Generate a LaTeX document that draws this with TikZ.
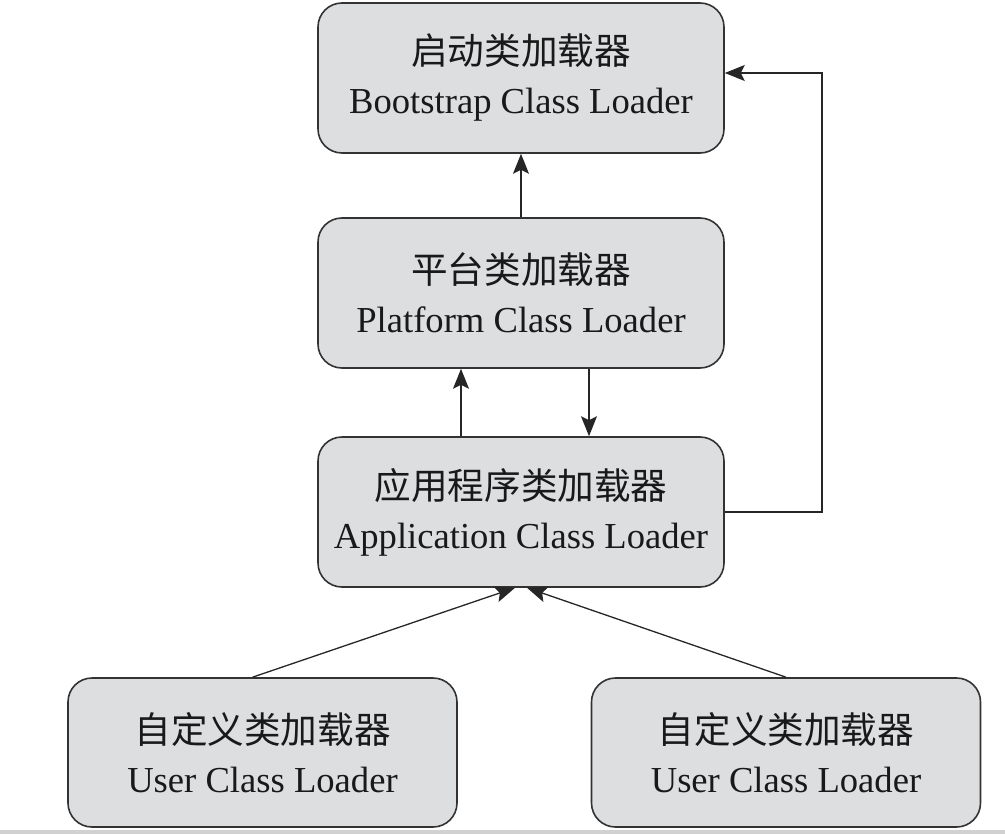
\documentclass[tikz,border=0pt]{standalone}
\usepackage{fontspec}
\setmainfont{Liberation Serif}
\newfontfamily\cjk{Noto Sans CJK SC}
\usetikzlibrary{arrows.meta, positioning}
\definecolor{boxfill}{HTML}{DCDEE0}
\definecolor{boxline}{HTML}{333333}
\tikzset{loader/.style={rectangle, rounded corners=12pt, draw=boxline, fill=boxfill,
    line width=0.8pt, minimum width=203pt, minimum height=75pt, align=center,
    text=black!90, font=\fontsize{18.3}{24.5}\selectfont},
    user loader/.style={loader, minimum width=194.5pt, minimum height=74.5pt},
    link/.style={draw=black!85, line width=0.65pt,
    -{Stealth[length=10pt, width=8pt, inset=2pt]}}}

\begin{document}
\begin{tikzpicture}[x=0.5pt, y=-0.5pt]
  \useasboundingbox (0,0) rectangle (1005,834);
  \fill[black!18] (0,830) rectangle (1005,834);

  % Nodes
  \node[loader] (boot) at (521,78)  {{\cjk 启动类加载器}\\Bootstrap Class Loader};
  \node[loader] (plat) at (521,293) {{\cjk 平台类加载器}\\Platform Class Loader};
  \node[loader] (app)  at (521,512) {{\cjk 应用程序类加载器}\\Application Class Loader};
  \node[user loader] (userA) at (262.5,752.5) {{\cjk 自定义类加载器}\\User Class Loader};
  \node[user loader] (userB) at (786,752.5)   {{\cjk 自定义类加载器}\\User Class Loader};
  \coordinate (turn) at (822,73);

  % Parent links
  \draw[link] (plat.north) -- (boot.south);
  \draw[link] ([xshift=-30pt]app.north) -- ([xshift=-30pt]plat.south);
  \draw[link] ([xshift=34pt]plat.south) -- ([xshift=34pt]app.north);
  \draw[link] (app.east) -- (app.east -| turn) -- (turn) -- (turn -| boot.east);

  % User loaders
  \draw[link] ([xshift=-5pt]userA.north) -- ([xshift=-3pt]app.south);
  \draw[link] (userB.north) -- ([xshift=3pt]app.south);
\end{tikzpicture}
\end{document}
